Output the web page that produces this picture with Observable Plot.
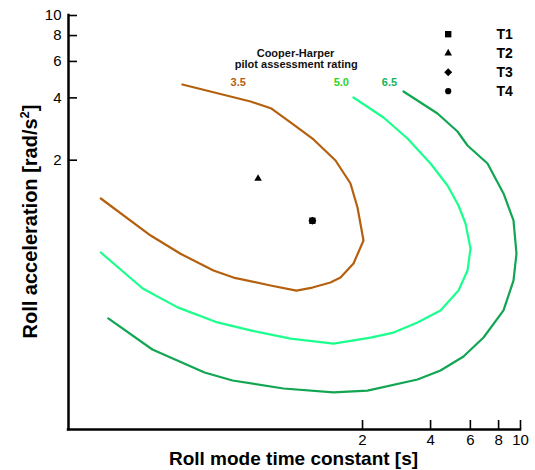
<!DOCTYPE html>
<html>
<head>
<meta charset="utf-8">
<script src="https://cdn.jsdelivr.net/npm/d3@7"></script>
<script src="https://cdn.jsdelivr.net/npm/@observablehq/plot@0.6"></script>
<style>
  html, body { margin: 0; padding: 0; background: #fff; }
  #chart svg { display: block; }
</style>
</head>
<body>
<div id="chart"></div>
<script>
// ---------- data ----------
const xTicks = [2, 4, 6, 8, 10];
const yTicks = [2, 4, 6, 8, 10];
const axisMin = 0.1;
const axisMax = 10;

const ratings = ["3.5", "5.0", "6.5"];

// Cooper-Harper 3.5 boundary
const tau35 = [0.139, 0.231, 0.313, 0.438, 0.537, 0.783, 1.020, 1.201, 1.443, 1.598, 1.824, 2.020, 1.900, 1.769, 1.519, 1.214, 0.960, 0.791, 0.639, 0.319];
const lp35  = [1.306, 0.865, 0.706, 0.586, 0.542, 0.496, 0.469, 0.485, 0.513, 0.542, 0.634, 0.818, 1.182, 1.543, 1.993, 2.518, 3.042, 3.553, 3.842, 4.64];

// Cooper-Harper 5.0 boundary
const tau50 = [0.139, 0.213, 0.304, 0.456, 0.639, 0.960, 1.488, 2.170, 2.743, 3.501, 4.426, 5.317, 5.829, 6.010, 5.710, 5.317, 4.753, 3.998, 3.162, 2.476, 1.824];
const lp50  = [0.716, 0.480, 0.389, 0.329, 0.301, 0.275, 0.260, 0.278, 0.294, 0.329, 0.376, 0.469, 0.586, 0.749, 0.989, 1.208, 1.509, 1.928, 2.545, 3.215, 4.018];

// Cooper-Harper 6.5 boundary
const tau65 = [0.150, 0.235, 0.400, 0.532, 0.894, 1.488, 2.104, 3.501, 4.426, 5.595, 6.861, 8.41, 9.31, 9.60, 9.31, 8.41, 7.145, 5.829, 5.263, 4.293, 3.036];
const lp65  = [0.344, 0.2435, 0.1886, 0.1724, 0.1578, 0.151, 0.154, 0.1744, 0.1928, 0.2253, 0.2782, 0.376, 0.524, 0.708, 1.023, 1.381, 1.928, 2.355, 2.752, 3.362, 4.295];

// test points
const series   = ["T1", "T2", "T3", "T4"];
const seriesTau = [1.2, 0.69, 1.2, 1.2];
const seriesLp  = [1.02, 1.63, 1.02, 1.02];

const annotationTitle = ["Cooper-Harper", "pilot assessment rating"];
const xLabel = "Roll mode time constant [s]";
const yLabel = "Roll acceleration [rad/s2]";

// ---------- styles ----------
const W = 535, H = 470, mL = 68, mR = 15, mT = 15, mB = 41;
const innerW = W - mL - mR, innerH = H - mT - mB;
const lineColors  = {"3.5": "#b4600e", "5.0": "#1bff8d", "6.5": "#12a552"};
const labelColors = {"3.5": "#b4600e", "5.0": "#2bd42b", "6.5": "#14b45a"};
const labelPos    = {"3.5": [237.7, 81.5], "5.0": [340.8, 81.5], "6.5": [389, 81.5]};
const symStyle = {
  T1: {symbol: "square", r: 3.6},
  T2: {symbol: "triangle", r: 2.8},
  T3: {symbol: "diamond2", r: 3.6},
  T4: {symbol: "circle", r: 3.1}
};

const curveData = {
  "3.5": tau35.map((x, i) => ({x, y: lp35[i]})),
  "5.0": tau50.map((x, i) => ({x, y: lp50[i]})),
  "6.5": tau65.map((x, i) => ({x, y: lp65[i]}))
};

const marks = [];

// contour lines
for (const r of ratings) {
  marks.push(Plot.line(curveData[r], {x: "x", y: "y", stroke: lineColors[r], strokeWidth: 2.2, curve: "linear"}));
}

// contour labels
for (const r of ratings) {
  const [px, py] = labelPos[r];
  marks.push(Plot.text([r], {text: d => d, frameAnchor: "top-left", textAnchor: "middle", lineAnchor: "middle",
    dx: px - mL, dy: py - mT, fill: labelColors[r], fontSize: 11, fontWeight: "bold"}));
}

// annotation title
const titleY = [52.5, 64];
const titleX = [295, 295.7];
annotationTitle.forEach((t, i) => {
  marks.push(Plot.text([t], {text: d => d, frameAnchor: "top-left", textAnchor: "middle", lineAnchor: "middle",
    dx: titleX[i] - mL, dy: titleY[i] - mT, fill: "#111", fontSize: 11, fontWeight: "bold"}));
});

// test points
series.forEach((s, i) => {
  marks.push(Plot.dot([{x: seriesTau[i], y: seriesLp[i]}], {x: "x", y: "y", symbol: symStyle[s].symbol, r: symStyle[s].r, fill: "black", stroke: "none"}));
});

// legend
series.forEach((s, i) => {
  const rowY = 33.7 + 19 * i - mT;
  marks.push(Plot.dot([s], {frameAnchor: "top-right", dx: 447.7 - (W - mR), dy: rowY, symbol: symStyle[s].symbol, r: symStyle[s].r, fill: "black", stroke: "none"}));
  marks.push(Plot.text([s], {text: d => d, frameAnchor: "top-right", textAnchor: "start", lineAnchor: "middle",
    dx: 496 - (W - mR), dy: rowY + 0.6, fontSize: 14, fontWeight: "bold", fill: "black"}));
});

// axes lines
marks.push(Plot.ruleX([axisMin], {stroke: "black", strokeWidth: 2.5, strokeLinecap: "square"}));
marks.push(Plot.ruleY([axisMin], {stroke: "black", strokeWidth: 2.5, strokeLinecap: "square"}));

// inward ticks
marks.push(Plot.tickX(xTicks, {x: d => d, insetTop: innerH - 9, stroke: "black", strokeWidth: 1.6}));
marks.push(Plot.tickY(yTicks, {y: d => d, insetRight: innerW - 9, stroke: "black", strokeWidth: 1.6}));

// tick labels (drawn as text on the scales)
marks.push(Plot.text(xTicks, {x: d => d, text: d => String(d), frameAnchor: "bottom", textAnchor: "middle", lineAnchor: "top",
  dy: 5, fontSize: 15, fill: "black"}));
marks.push(Plot.text(yTicks, {y: d => d, text: d => String(d), frameAnchor: "left", textAnchor: "end", lineAnchor: "middle",
  dx: -7, fontSize: 15, fill: "black"}));

// axis titles
marks.push(Plot.text([xLabel], {text: d => d, frameAnchor: "bottom", textAnchor: "middle", lineAnchor: "middle",
  dx: 293 - (mL + innerW / 2), dy: 29, fontSize: 19, fontWeight: "bold", fill: "black"}));
marks.push(Plot.text([yLabel], {text: d => d, frameAnchor: "left", textAnchor: "middle", lineAnchor: "middle",
  dx: 30.3 - mL, dy: 221 - (mT + innerH / 2), rotate: -90, fontSize: 20, fontWeight: "bold", fill: "black"}));

const chart = Plot.plot({
  width: W, height: H,
  marginLeft: mL, marginRight: mR, marginTop: mT, marginBottom: mB,
  style: {fontFamily: "'Liberation Sans', Arial, Helvetica, sans-serif", background: "white", color: "black", overflow: "visible"},
  x: {type: "log", domain: [axisMin, axisMax], axis: null},
  y: {type: "log", domain: [axisMin, axisMax], axis: null},
  marks
});
document.getElementById("chart").appendChild(chart);

// superscript in y label
chart.querySelectorAll("text").forEach(t => {
  if (t.textContent === yLabel) {
    const ns = "http://www.w3.org/2000/svg";
    t.textContent = "Roll acceleration [rad/s";
    const sup = document.createElementNS(ns, "tspan");
    sup.setAttribute("dy", "-8");
    sup.setAttribute("font-size", "13");
    sup.textContent = "2";
    const close = document.createElementNS(ns, "tspan");
    close.setAttribute("dy", "8");
    close.textContent = "]";
    t.appendChild(sup);
    t.appendChild(close);
  }
});
</script>
</body>
</html>
